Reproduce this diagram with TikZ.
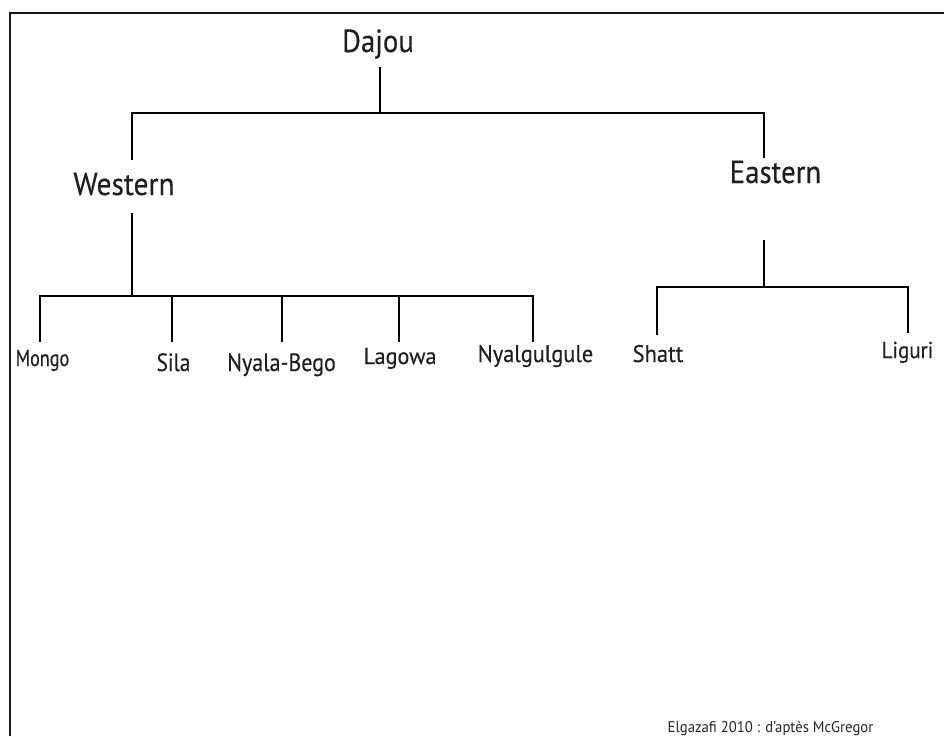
\documentclass[tikz,border=0pt]{standalone}
\usepackage{fontspec}
\setmainfont{PT Sans}
\begin{document}
\begin{tikzpicture}[x=1pt,y=-1pt,
  tree/.style={line width=2.6pt,black},
  txt/.style 2 args={anchor=base,inner sep=0pt,text=black!88,
    font={\fontsize{#1}{#1}\selectfont\addfontfeature{FakeStretch=#2,FakeBold=0.3}}},
  note/.style={anchor=base,inner sep=0pt,text=black!85,
    font={\fontsize{15.5}{16}\selectfont\addfontfeature{FakeStretch=0.95}}}]
\useasboundingbox[fill=white] (0,0) rectangle (944,736);
% frame
\coordinate (fBL) at (10,736);
\coordinate (fTL) at (10,13);
\coordinate (fTR) at (944,13);
\draw[line width=1.3pt,black!90] (fBL) -- (fTL) -- (fTR);
% texts
\node[txt={32}{0.9}] (dajou) at (378,52) {Dajou};
\node[txt={32}{0.92}] (western) at (124,195) {Western};
\node[txt={32}{0.9}] (eastern) at (775.5,183) {Eastern};
\node[txt={23}{0.79}] (mongo) at (42.5,366) {Mongo};
\node[txt={25}{0.85}] (sila) at (173.5,371) {Sila};
\node[txt={25}{0.88}] (nyalabego) at (281.5,371) {Nyala-Bego};
\node[txt={23}{0.965}] (lagowa) at (400,364) {Lagowa};
\node[txt={24}{0.93}] (nyalgulgule) at (535.5,362) {Nyalgulgule};
\node[txt={24}{0.94}] (shatt) at (658,362) {Shatt};
\node[txt={23}{0.91}] (liguri) at (907.5,358) {Liguri};
\node[note] (foot) at (770.5,732) {Elgazafi 2010 : d’aptès McGregor};
% junction coordinates
\coordinate (dTop) at (380,67);
\coordinate (dJ) at (380,113);
\coordinate (wEnd) at (132,160);
\coordinate (eEnd) at (764,158);
\coordinate (wTop) at (132,213);
\coordinate (wJ) at (132,296);
\coordinate (mEnd) at (40,342);
\coordinate (sEnd) at (172,342);
\coordinate (nbEnd) at (282,342);
\coordinate (lEnd) at (399,342);
\coordinate (ngEnd) at (533,342);
\coordinate (eTop) at (764,240);
\coordinate (eJ) at (764,287);
\coordinate (shEnd) at (657,335);
\coordinate (liEnd) at (908,333);
% connectors
\draw[tree] (dTop) -- (dJ);
\draw[tree] (wEnd) |- (dJ) -| (eEnd);
\draw[tree] (wTop) -- (wJ);
\draw[tree] (mEnd) |- (wJ) -| (ngEnd);
\draw[tree] (sEnd) -- (sEnd |- wJ);
\draw[tree] (nbEnd) -- (nbEnd |- wJ);
\draw[tree] (lEnd) -- (lEnd |- wJ);
\draw[tree] (eTop) -- (eJ);
\draw[tree] (shEnd) |- (eJ) -| (liEnd);
\end{tikzpicture}
\end{document}
